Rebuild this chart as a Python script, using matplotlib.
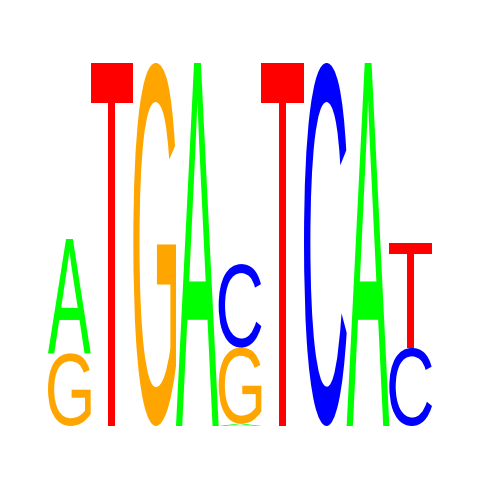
import matplotlib
matplotlib.use('Agg')
import matplotlib.pyplot as plt
from matplotlib.textpath import TextPath
from matplotlib.font_manager import FontProperties
from matplotlib.patches import PathPatch
from matplotlib.transforms import Affine2D

# stacked letters per position, bottom to top, heights in bits
positions = [1, 2, 3, 4, 5, 6, 7, 8, 9]
letters = [
    ['G', 'A'],
    ['T'],
    ['G'],
    ['A'],
    ['A', 'G', 'C'],
    ['T'],
    ['C'],
    ['A'],
    ['C', 'T'],
]
heights = [
    [0.40, 0.63],
    [2.0],
    [2.0],
    [2.0],
    [0.012, 0.42, 0.46],
    [2.0],
    [2.0],
    [2.0],
    [0.43, 0.58],
]
colors = {'A': '#00ff00', 'C': '#0000ff', 'G': '#ffa500', 'T': '#ff0000'}

fp = FontProperties(family='Liberation Sans')


def draw_letter(ax, ch, x0, y0, w, h, color):
    tp = TextPath((0, 0), ch, size=1, prop=fp)
    bb = tp.get_extents()
    tr = (Affine2D()
          .translate(-bb.x0, -bb.y0)
          .scale(w / bb.width, h / bb.height)
          .translate(x0, y0))
    path = tr.transform_path(tp)
    ax.add_patch(PathPatch(path, facecolor=color, edgecolor='none', lw=0))


fig = plt.figure(figsize=(4.8, 4.8), dpi=100)
ax = fig.add_axes([0, 0, 1, 1])
ax.set_xlim(-0.625, 10.625)
ax.set_ylim(-0.2975, 2.347)
ax.axis('off')

for pos, lets, hs in zip(positions, letters, heights):
    y = 0.0
    for ch, h in zip(lets, hs):
        draw_letter(ax, ch, pos - 0.5, y, 1.0, h, colors[ch])
        y += h

fig.savefig('out.png', dpi=100)
